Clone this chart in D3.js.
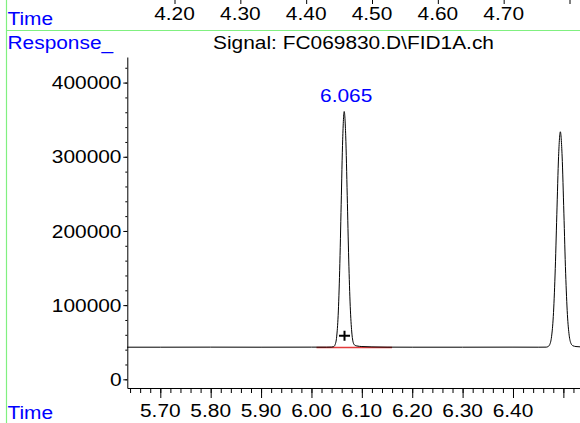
<!DOCTYPE html>
<html>
<head>
<meta charset="utf-8">
<script src="https://cdn.jsdelivr.net/npm/d3@7"></script>
<style>
  html, body { margin: 0; padding: 0; background: #fff; }
  svg { display: block; }
  text { font-family: "Liberation Sans", Arial, Helvetica, sans-serif; }
</style>
</head>
<body>
<svg id="chart" width="580" height="423"></svg>
<script>
// ---- data ----
const traceTime = [
  5.634, 5.70, 5.80, 5.90, 6.00, 6.03, 6.040,
  6.044, 6.047, 6.050, 6.053, 6.056, 6.059, 6.062, 6.065,
  6.068, 6.071, 6.074, 6.077, 6.080, 6.083, 6.086, 6.090, 6.100, 6.120, 6.150,
  6.20, 6.30, 6.40, 6.450, 6.466,
  6.4695, 6.473, 6.4765, 6.480, 6.4835, 6.487, 6.4905, 6.494,
  6.4975, 6.501, 6.5045, 6.508, 6.5115, 6.515, 6.519, 6.525, 6.533
];
const traceResponse = [
  43300, 43300, 43400, 43300, 43400, 43400, 43500,
  44000, 46800, 57200, 86300, 146500, 236000, 323700, 361000,
  328300, 247600, 160900, 98000, 63800, 49400, 46000, 45000, 44200, 43700, 43400,
  43300, 43300, 43400, 43300, 43400,
  44100, 46900, 57400, 84800, 140600, 221900, 300600, 333700,
  301000, 224000, 143000, 87500, 59500, 48500, 45200, 44200, 43800
];
const integStart = [6.010, 42900];
const integEnd = [6.160, 42900];
const peakLabel = { rt: 6.065, text: "6.065", labelY: 375000 };
const marker = [6.0656, 58700];

const xMajorTicks = [5.70, 5.80, 5.90, 6.00, 6.10, 6.20, 6.30, 6.40, 6.50];
const xLabels = ["5.70", "5.80", "5.90", "6.00", "6.10", "6.20", "6.30", "6.40"];
const yMajorTicks = [0, 100000, 200000, 300000, 400000];
const topTicks = [4.20, 4.30, 4.40, 4.50, 4.60, 4.70, 4.80];
const topLabels = ["4.20", "4.30", "4.40", "4.50", "4.60", "4.70"];

const titleText = "Signal: FC069830.D\\FID1A.ch";

// ---- drawing ----
const svg = d3.select("#chart");
const SX = 1.13;          // horizontal stretch of the fonts in the reference
const FS = 18.5;
const blue = "#0000ff";
const green = "#80f080";

svg.append("rect").attr("width", 580).attr("height", 423).attr("fill", "#fff");

const x = d3.scaleLinear().domain([5.6345, 6.533]).range([127.3, 580]);
const y = d3.scaleLinear().domain([-11700, 434500]).range([388, 57]);
const xTop = d3.scaleLinear().domain([4.20, 4.80]).range([174.5, 569.5]);

function txt(g, str, px, py, anchor, color) {
  return g.append("text")
    .attr("transform", `translate(${px},${py}) scale(${SX},1)`)
    .attr("text-anchor", anchor)
    .attr("font-size", FS)
    .attr("fill", color || "#000")
    .text(str);
}

// green frame lines
svg.append("line").attr("x1", 6.5).attr("x2", 6.5).attr("y1", 0).attr("y2", 423)
  .attr("stroke", green).attr("stroke-width", 1.2);
svg.append("line").attr("x1", 6.5).attr("x2", 580).attr("y1", 30.5).attr("y2", 30.5)
  .attr("stroke", green).attr("stroke-width", 1.2);

// top (previous panel) axis remnants
const topAxis = d3.axisTop(xTop).tickValues(topTicks).tickSize(4).tickSizeOuter(0).tickFormat("");
svg.append("g").attr("transform", "translate(0,4)").call(topAxis)
  .call(g => g.select(".domain").remove());
topLabels.forEach((l, i) => txt(svg, l, xTop(+l), 20, "middle"));
txt(svg, "Time", 7.5, 25, "start", blue);

// header
txt(svg, "Response_", 7.5, 49.3, "start", blue);
txt(svg, titleText, 353.5, 49, "middle");

// y axis
const yMinor = d3.range(0, 440000, 20000);
svg.append("g").attr("transform", "translate(127.3,0)")
  .call(d3.axisLeft(y).tickValues(yMinor).tickSize(2).tickSizeOuter(0).tickFormat(""))
  .call(g => g.select(".domain").remove());
svg.append("g").attr("transform", "translate(127.3,0)")
  .call(d3.axisLeft(y).tickValues(yMajorTicks).tickSize(4).tickSizeOuter(0).tickFormat(""));
svg.selectAll(".ylab").data(yMajorTicks).enter().append("text")
  .attr("class", "ylab")
  .attr("transform", d => `translate(121.5,${y(d) + 6.7}) scale(${SX},1)`)
  .attr("text-anchor", "end").attr("font-size", FS).attr("fill", "#000")
  .text(d => d3.format("d")(d));

// x axis
const xMinor = d3.range(5.64, 6.535, 0.02);
svg.append("g").attr("transform", "translate(0,388)")
  .call(d3.axisBottom(x).tickValues(xMinor).tickSize(5).tickSizeOuter(0).tickFormat(""))
  .call(g => g.select(".domain").remove());
svg.append("g").attr("transform", "translate(0,388)")
  .call(d3.axisBottom(x).tickValues(xMajorTicks).tickSize(10).tickSizeOuter(0).tickFormat(""));
svg.selectAll(".xlab").data(xLabels).enter().append("text")
  .attr("class", "xlab")
  .attr("transform", d => `translate(${x(+d)},417.3) scale(${SX},1)`)
  .attr("text-anchor", "middle").attr("font-size", FS).attr("fill", "#000")
  .text(d => d);
txt(svg, "Time", 7.5, 419, "start", blue);

svg.selectAll(".tick line").attr("stroke", "#000");
svg.selectAll(".domain").attr("stroke", "#000");

// integration baseline (red)
svg.append("line")
  .attr("x1", x(integStart[0])).attr("y1", y(integStart[1]))
  .attr("x2", x(integEnd[0])).attr("y2", y(integEnd[1]))
  .attr("stroke", "#e23a3a").attr("stroke-width", 1.6);

// trace
const pts = traceTime.map((t, i) => [t, traceResponse[i]]);
const line = d3.line().x(d => x(d[0])).y(d => y(d[1])).curve(d3.curveMonotoneX);
svg.append("path").datum(pts).attr("d", line)
  .attr("fill", "none").attr("stroke", "#000").attr("stroke-width", 1);

// peak marker "+"
const mx = x(marker[0]), my = y(marker[1]);
svg.append("path").attr("d", `M${mx - 5.5},${my}H${mx + 5.5}M${mx},${my - 5}V${my + 5}`)
  .attr("stroke", "#000").attr("stroke-width", 2).attr("fill", "none");

// peak label
txt(svg, peakLabel.text, x(peakLabel.rt) + 2, y(peakLabel.labelY) + 1, "middle", blue);
</script>
</body>
</html>
